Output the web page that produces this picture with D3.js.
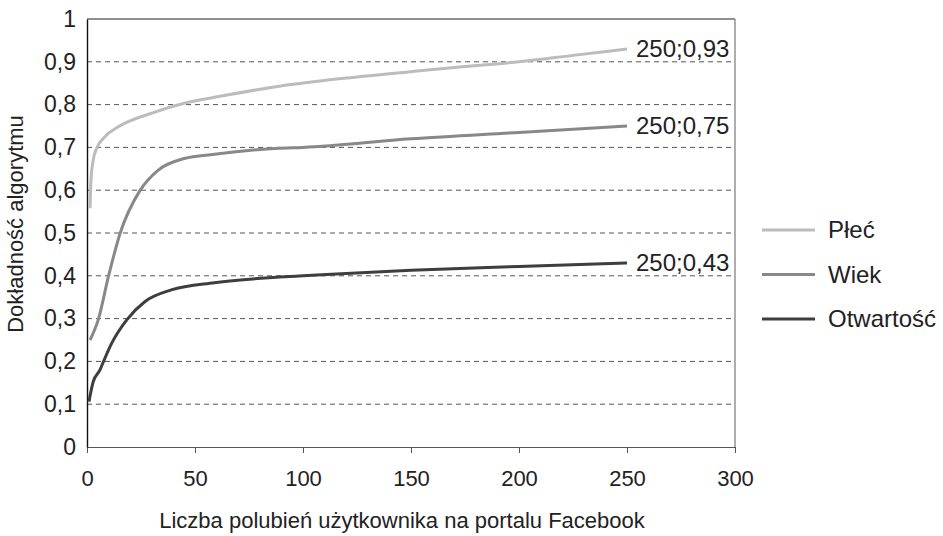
<!DOCTYPE html>
<html>
<head>
<meta charset="utf-8">
<script src="https://cdn.jsdelivr.net/npm/d3@7"></script>
<style>
body { margin: 0; background: #fff; }
text { font-family: "Liberation Sans", Arial, sans-serif; fill: #222; }
</style>
</head>
<body>
<script>
const WIDTH = 943
const HEIGHT = 536
const M = { left: 87, right: 735, top: 19, bottom: 447 }

// serie: liczba polubień (x) i dokładność (y)
const plecX = [1.4, 1.85, 2.9, 4.5, 8.3, 14.5, 30, 45, 59, 89, 120, 150, 175, 200, 225, 250]
const plecY = [0.558, 0.624, 0.671, 0.698, 0.725, 0.748, 0.78, 0.803, 0.817, 0.843, 0.862, 0.877, 0.889, 0.90, 0.915, 0.93]
const wiekX = [1.4, 5.2, 9.9, 15.3, 24.5, 33, 45, 59, 89, 100, 150, 200, 250]
const wiekY = [0.25, 0.297, 0.398, 0.499, 0.599, 0.647, 0.674, 0.684, 0.698, 0.70, 0.72, 0.735, 0.75]
const otwX = [0.9, 2.9, 6, 7.5, 11.4, 18.4, 26.9, 39, 59, 89, 100, 150, 200, 250]
const otwY = [0.106, 0.153, 0.18, 0.198, 0.242, 0.297, 0.34, 0.367, 0.384, 0.397, 0.40, 0.413, 0.422, 0.43]

const seriesNames = ['Płeć', 'Wiek', 'Otwartość']
const seriesColors = ['#bcbcbc', '#888888', '#3e3e3e']
const endLabels = ['250;0,93', '250;0,75', '250;0,43']
const xTicks = [0, 50, 100, 150, 200, 250, 300]
const yTicks = [0, 0.1, 0.2, 0.3, 0.4, 0.5, 0.6, 0.7, 0.8, 0.9, 1]

const series = [
    { x: plecX, y: plecY },
    { x: wiekX, y: wiekY },
    { x: otwX, y: otwY }
]

const svg = d3.select('body').append('svg').attr('width', WIDTH).attr('height', HEIGHT)

const x = d3.scaleLinear().domain([0, 300]).range([M.left, M.right])
const y = d3.scaleLinear().domain([0, 1]).range([M.bottom, M.top])

const fmt = v => String(Math.round(v * 10) / 10).replace('.', ',')

// linie siatki
svg.selectAll('.grid')
    .data(yTicks.filter(d => d > 0 && d < 1))
    .enter()
    .append('line')
    .attr('x1', M.left).attr('x2', M.right)
    .attr('y1', d => y(d)).attr('y2', d => y(d))
    .attr('stroke', '#555')
    .attr('stroke-width', 1)
    .attr('stroke-dasharray', '5,4')

// ramka
svg.append('line').attr('x1', M.left).attr('x2', M.right).attr('y1', M.top).attr('y2', M.top)
    .attr('stroke', '#222').attr('stroke-width', 1.2)
svg.append('line').attr('x1', M.right).attr('x2', M.right).attr('y1', M.top).attr('y2', M.bottom)
    .attr('stroke', '#777').attr('stroke-width', 1.2)

// osie
const xAxis = svg.append('g')
    .attr('transform', `translate(0,${M.bottom})`)
    .call(d3.axisBottom(x).tickValues(xTicks).tickSize(6).tickSizeOuter(0).tickPadding(17))
xAxis.select('.domain').attr('stroke', '#555').attr('stroke-width', 1.2)
xAxis.selectAll('.tick line').attr('stroke', '#555')
xAxis.selectAll('text').style('font-size', '22px').attr('fill', '#222')

const yAxis = svg.append('g')
    .attr('transform', `translate(${M.left},0)`)
    .call(d3.axisLeft(y).tickValues(yTicks).tickFormat(fmt).tickSize(0).tickPadding(11))
yAxis.select('.domain').attr('stroke', '#111').attr('stroke-width', 1.4)
yAxis.selectAll('text').style('font-size', '23px').attr('fill', '#222')

// krzywe
const line = d3.line()
    .x(d => x(d[0]))
    .y(d => y(d[1]))
    .curve(d3.curveMonotoneX)

series.forEach((s, i) => {
    const pts = s.x.map((v, j) => [v, s.y[j]])
    svg.append('path')
        .datum(pts)
        .attr('d', line)
        .attr('fill', 'none')
        .attr('stroke', seriesColors[i])
        .attr('stroke-width', 3)
    const last = pts[pts.length - 1]
    svg.append('text')
        .attr('x', x(last[0]) + 9)
        .attr('y', y(last[1]))
        .attr('dy', '0.35em')
        .style('font-size', '24px')
        .text(endLabels[i])
})

// legenda
const legend = svg.append('g').attr('transform', 'translate(762,230)')
seriesNames.forEach((n, i) => {
    legend.append('line')
        .attr('x1', 0).attr('x2', 53)
        .attr('y1', i * 44.5).attr('y2', i * 44.5)
        .attr('stroke', seriesColors[i]).attr('stroke-width', 3)
    legend.append('text')
        .attr('x', 66).attr('y', i * 44.5).attr('dy', '0.35em')
        .style('font-size', '24px')
        .text(n)
})

// tytuły osi
svg.append('text')
    .attr('transform', 'translate(23,224) rotate(-90)')
    .attr('text-anchor', 'middle')
    .style('font-size', '22px')
    .text('Dokładność algorytmu')

svg.append('text')
    .attr('x', 402).attr('y', 528)
    .attr('text-anchor', 'middle')
    .style('font-size', '22px')
    .text('Liczba polubień użytkownika na portalu Facebook')
</script>
</body>
</html>
